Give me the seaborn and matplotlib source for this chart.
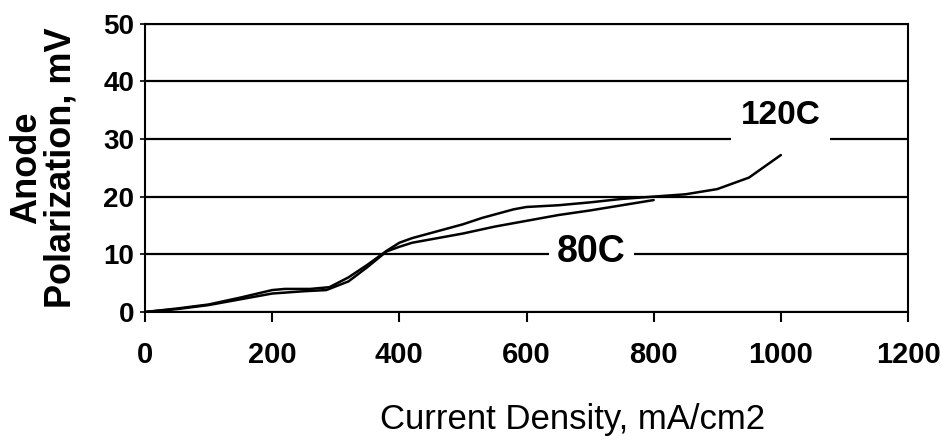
import matplotlib
matplotlib.use("Agg")
import matplotlib.pyplot as plt
import seaborn as sns
import pandas as pd

# ---- data ----
x_120c = [0, 50, 100, 150, 200, 220, 260, 290, 320, 350, 380, 400, 420, 450,
          500, 530, 580, 600, 650, 700, 750, 800, 850, 900, 950, 1000]
y_120c = [0, 0.6, 1.3, 2.5, 3.8, 4.0, 4.0, 4.3, 6.0, 8.2, 10.6, 12.0, 12.8, 13.7,
          15.2, 16.3, 17.8, 18.2, 18.5, 19.0, 19.6, 20.0, 20.4, 21.3, 23.3, 27.2]
x_80c = [0, 50, 100, 150, 200, 250, 285, 320, 350, 380, 400, 420, 450, 500,
         550, 600, 650, 700, 750, 800]
y_80c = [0, 0.5, 1.2, 2.2, 3.2, 3.6, 3.8, 5.3, 7.8, 10.5, 11.3, 12.0, 12.6, 13.6,
         14.8, 15.8, 16.8, 17.6, 18.5, 19.4]
series_labels = ["120C", "80C"]
x_ticks = [0, 200, 400, 600, 800, 1000, 1200]
y_ticks = [0, 10, 20, 30, 40, 50]
x_title = "Current Density, mA/cm2"
y_title = "Anode\nPolarization, mV"

df = pd.concat([
    pd.DataFrame({"x": x_120c, "y": y_120c, "s": series_labels[0]}),
    pd.DataFrame({"x": x_80c, "y": y_80c, "s": series_labels[1]}),
], ignore_index=True)

sns.set_style("ticks")
plt.rcParams["text.color"] = "black"
plt.rcParams["xtick.color"] = "black"
plt.rcParams["ytick.color"] = "black"
plt.rcParams["axes.labelcolor"] = "black"
fam = ["Liberation Sans", "DejaVu Sans"]
plt.rcParams["font.family"] = fam

fig = plt.figure(figsize=(9.42, 4.47), dpi=100)
ax = fig.add_axes([145 / 942, 1 - 312 / 447, 763 / 942, 288.5 / 447])

sns.lineplot(data=df, x="x", y="y", hue="s", palette={"120C": "black", "80C": "black"},
             estimator=None, sort=False, legend=False, lw=1.8, ax=ax, zorder=3)

ax.set_xlim(0, 1200)
ax.set_ylim(0, 50)
ax.set_xticks(x_ticks)
ax.set_yticks(y_ticks)
ax.set_xticklabels([str(v) for v in x_ticks], family=fam, weight="bold", fontsize=21)
ax.set_yticklabels([str(v) for v in y_ticks], family=fam, weight="bold", fontsize=20)
ax.tick_params(axis="x", direction="out", length=7.2, width=1.5, pad=14, color="black")
ax.tick_params(axis="y", direction="inout", length=7.2, width=1.2, pad=4, color="black")

ax.yaxis.grid(True, color="black", lw=1.6)
ax.xaxis.grid(False)
for side in ["left", "bottom", "right", "top"]:
    ax.spines[side].set_visible(True)
    ax.spines[side].set_color("black")
    ax.spines[side].set_linewidth(1.5)

ax.set_xlabel(x_title, family=fam, fontsize=25, va="top")
ax.xaxis.set_label_coords(0.56, -0.315)
ax.set_ylabel(y_title, family=fam, weight="bold", fontsize=26, linespacing=1.0)
ax.yaxis.set_label_coords(-0.087, 0.5)

ax.text(1000, 34.0, series_labels[0], family=fam, weight="bold", fontsize=24,
        ha="center", va="center", zorder=4,
        bbox=dict(facecolor="white", edgecolor="none", pad=7))
ax.text(702, 10.4, series_labels[1], family=fam, weight="bold", fontsize=27,
        ha="center", va="center", zorder=4,
        bbox=dict(facecolor="white", edgecolor="none", pad=6))

fig.savefig("out.png", dpi=100)
